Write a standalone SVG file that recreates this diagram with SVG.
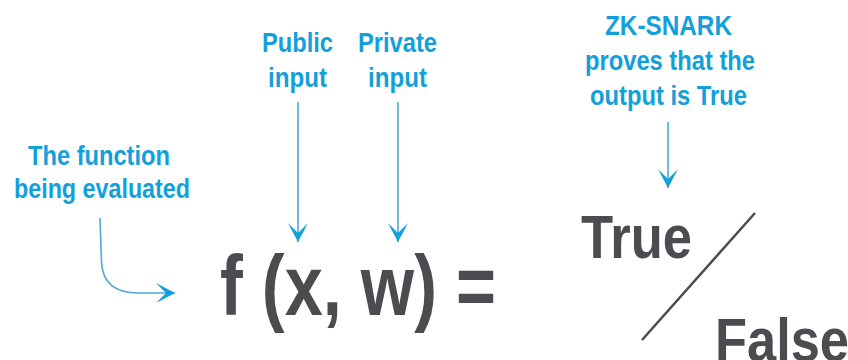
<svg xmlns="http://www.w3.org/2000/svg" width="848" height="360" viewBox="0 0 848 360">
  <style>
    .lbl { font-family: "Liberation Sans", Arial, sans-serif; font-weight: bold; font-size: 28px; fill: #13a0da; }
    .big { font-family: "Liberation Sans", Arial, sans-serif; font-weight: bold; fill: #4b4c50; }
    .conn { fill: none; stroke: #4fa9d6; stroke-width: 1.6; }
  </style>
  <defs>
    <marker id="ah" markerUnits="userSpaceOnUse" markerWidth="24" markerHeight="24" viewBox="-20 -12 22 24" refX="0" refY="0" orient="auto">
      <path d="M0,0 L-19,-10 L-9,0 L-19,10 Z" fill="#13a0da"/>
    </marker>
  </defs>
  <rect width="848" height="360" fill="#ffffff"/>

  <g id="label-function">
    <text class="lbl" x="99" y="165" text-anchor="middle" textLength="142" lengthAdjust="spacingAndGlyphs">The function</text>
    <text class="lbl" x="102" y="198" text-anchor="middle" textLength="176" lengthAdjust="spacingAndGlyphs">being evaluated</text>
  </g>
  <g id="label-public">
    <text class="lbl" x="297.5" y="52" text-anchor="middle" textLength="71" lengthAdjust="spacingAndGlyphs">Public</text>
    <text class="lbl" x="297.5" y="87" text-anchor="middle" textLength="59" lengthAdjust="spacingAndGlyphs">input</text>
  </g>
  <g id="label-private">
    <text class="lbl" x="397.5" y="52" text-anchor="middle" textLength="79" lengthAdjust="spacingAndGlyphs">Private</text>
    <text class="lbl" x="397.5" y="87" text-anchor="middle" textLength="59" lengthAdjust="spacingAndGlyphs">input</text>
  </g>
  <g id="label-zksnark">
    <text class="lbl" x="668.5" y="35" text-anchor="middle" textLength="127" lengthAdjust="spacingAndGlyphs">ZK-SNARK</text>
    <text class="lbl" x="670" y="70" text-anchor="middle" textLength="170" lengthAdjust="spacingAndGlyphs">proves that the</text>
    <text class="lbl" x="668.5" y="105" text-anchor="middle" textLength="157" lengthAdjust="spacingAndGlyphs">output is True</text>
  </g>
  <g id="formula">
    <text class="big" x="220" y="315" font-size="85" textLength="276" lengthAdjust="spacingAndGlyphs">f (x, w) =</text>
  </g>
  <g id="output">
    <text class="big" x="581" y="258" font-size="62" textLength="111" lengthAdjust="spacingAndGlyphs">True</text>
    <line x1="755" y1="213" x2="642" y2="340" stroke="#4b4c50" stroke-width="2.5"/>
    <text class="big" x="715" y="361" font-size="62" textLength="134" lengthAdjust="spacingAndGlyphs">False</text>
  </g>

  <g id="connectors">
    <path class="conn" d="M100,218 L101.5,262 Q103,293 138,293 L175,293" marker-end="url(#ah)"/>
    <path class="conn" d="M298,102 L298,242" marker-end="url(#ah)"/>
    <path class="conn" d="M398,102 L398,242" marker-end="url(#ah)"/>
    <path class="conn" d="M668,122 L668,188" marker-end="url(#ah)"/>
  </g>
</svg>
